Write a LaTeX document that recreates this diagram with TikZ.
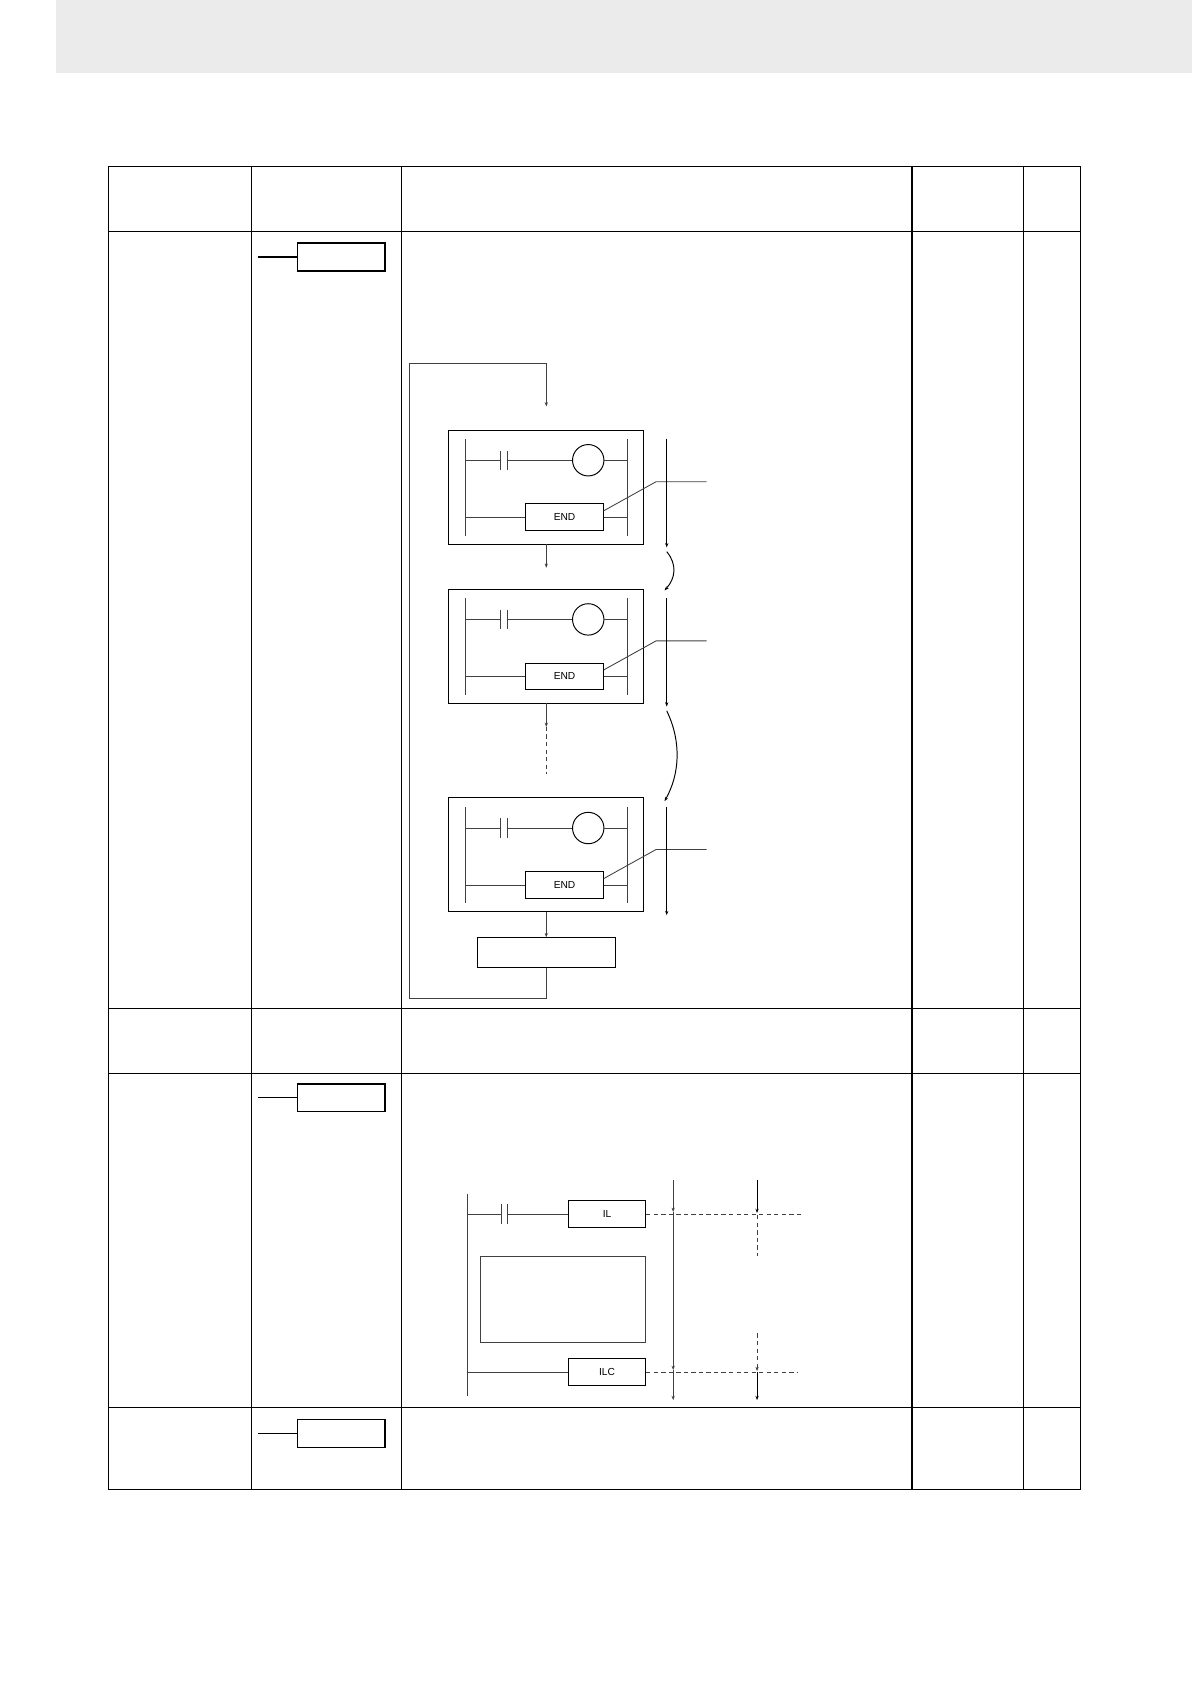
\documentclass[tikz,border=0pt]{standalone}
\usepackage{fontspec}
\setmainfont{Liberation Sans}
\usetikzlibrary{arrows.meta}
\begin{document}
\begin{tikzpicture}[x=1pt,y=-1pt,
  tbl/.style={line width=1.1pt,black},
  dg/.style={line width=0.8pt,black!75},
  dgb/.style={line width=0.9pt,black},
  arr/.style={-{Stealth[length=4pt,width=3pt]}},
  dsh/.style={dashed,dash pattern=on 4pt off 3pt},
  lbl/.style={draw,line width=0.8pt,minimum width=72pt,minimum height=25pt,inner sep=0pt,font=\fontsize{9.5}{10}\selectfont},
  tag/.style={draw,line width=1pt,minimum width=81pt,minimum height=26pt,inner sep=0pt}]
\useasboundingbox (0,0) rectangle (1108,1566);
\fill[black!8] (52,0) rectangle (1108,68);
% table
\draw[tbl] (101,155) rectangle (1005,1385);
\foreach \x in {234,373,848,952} \draw[tbl] (\x,155) -- (\x,1385);
\foreach \y in {215,938,998,1309} \draw[tbl] (101,\y) -- (1005,\y);
% tag boxes
\foreach \y/\n in {239/t1,1021/t2,1333/t3}{
  \node[tag] (\n) at (317.5,\y) {};
  \draw[line width=1pt] (240,\y) -- (\n.west);}
% program blocks
\foreach \t/\n in {400/p1,548/p2,742/p3}{
  \draw[dgb] (417,\t) rectangle (598,\t+106);
  \draw[dg] (433,\t+8) -- (433,\t+98);
  \draw[dg] (583,\t+8) -- (583,\t+98);
  \draw[dg] (433,\t+28) -- (465,\t+28);
  \draw[dg] (465,\t+19) -- (465,\t+37);
  \draw[dg] (472,\t+19) -- (472,\t+37);
  \draw[dg] (472,\t+28) -- (532,\t+28);
  \draw[dgb] (547,\t+28) circle (14.6);
  \draw[dg] (561.6,\t+28) -- (583,\t+28);
  \node[lbl] (\n end) at (525,\t+81) {END};
  \draw[dg] (433,\t+81) -- (\n end.west);
  \draw[dg] (\n end.east) -- (583,\t+81);
  \draw[dg] (\n end.east) ++(0,-6) -- (610,\t+48) -- (657,\t+48);
  \draw[dgb,arr] (620,\t+8) -- (620,\t+109);
}
% loop
\node[draw,line width=0.8pt,minimum width=128pt,minimum height=28pt] (res) at (508,886) {};
\draw[dg,arr] (res.south) -- (508,928) -- (381,928) -- (381,338) -- (508,338) -- (508,378);
\draw[dg,arr] (508,506) -- (508,528);
\draw[dg,arr] (508,654) -- (508,676);
\draw[dg,dsh] (508,676) -- (508,720);
\draw[dg,arr] (508,848) -- (res.north);
\draw[dgb,arr] (620,513) .. controls (630,525) and (628,538) .. (618,549);
\draw[dgb,arr] (620,661) .. controls (634,690) and (632,720) .. (618,745);
% IL section
\draw[dg] (435,1110) -- (435,1298);
\node[lbl] (il) at (564.5,1129) {IL};
\node[lbl] (ilc) at (564.5,1276) {ILC};
\draw[dg] (435,1129) -- (466,1129);
\draw[dg] (466,1120) -- (466,1138);
\draw[dg] (472,1120) -- (472,1138);
\draw[dg] (472,1129) -- (il.west);
\draw[dg] (435,1276) -- (ilc.west);
\draw[dg] (447,1168) rectangle (600,1248);
\draw[dg,dsh] (il.east) -- (745,1129);
\draw[dg,dsh] (ilc.east) -- (741,1276);
\draw[dg,arr] (626,1097) -- (626,1127);
\draw[dg,arr] (626,1127) -- (626,1274);
\draw[dg,arr] (626,1274) -- (626,1302);
\draw[dgb,arr] (704,1097) -- (704,1128);
\draw[dg,dsh] (704,1130) -- (704,1168);
\draw[dg,dsh,arr] (704,1240) -- (704,1275);
\draw[dgb,arr] (704,1276) -- (704,1302);
\end{tikzpicture}
\end{document}
